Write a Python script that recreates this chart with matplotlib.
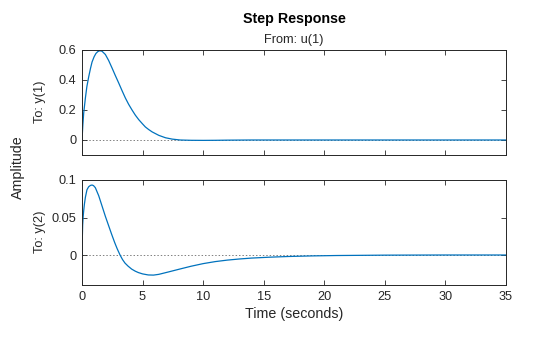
import matplotlib
matplotlib.use('Agg')
import matplotlib.pyplot as plt

plt.rcParams['font.family'] = ['Liberation Sans', 'DejaVu Sans']

# step response samples (time in seconds)
t1 = [0, 0.07, 0.14, 0.28, 0.4, 0.55, 0.7, 0.83, 1.0, 1.15, 1.3, 1.46, 1.65, 1.93, 2.2, 2.48,
      2.75, 3.03, 3.3, 3.58, 3.85, 4.13, 4.4, 4.68, 5.0, 5.23, 5.5, 5.79, 6.34, 6.89, 7.44, 8.1,
      9.0, 10.0, 11.0, 12.0, 14.0, 17.0, 20.0, 25.0, 30.0, 35.0]
y1 = [0, 0.1, 0.18, 0.28, 0.355, 0.42, 0.477, 0.52, 0.555, 0.577, 0.589, 0.595, 0.592, 0.57, 0.53, 0.48,
      0.43, 0.38, 0.33, 0.28, 0.238, 0.20, 0.166, 0.136, 0.107, 0.087, 0.07, 0.054, 0.031, 0.015, 0.006, 0.0,
      -0.002, -0.0025, -0.002, -0.001, 0.0, 0.0, 0.0, 0.0, 0.0, 0.0]

t2 = [0, 0.025, 0.055, 0.1, 0.14, 0.2, 0.28, 0.41, 0.55, 0.7, 0.83, 0.95, 1.1, 1.38, 1.65, 1.93,
      2.2, 2.45, 2.7, 2.9, 3.14, 3.35, 3.55, 3.8, 4.1, 4.4, 4.65, 5.0, 5.47, 5.9, 6.34, 7.16,
      8.13, 9.0, 10.0, 11.0, 12.0, 13.0, 14.0, 15.5, 17.0, 19.0, 21.0, 25.0, 30.0, 35.0]
y2 = [0, 0.022, 0.040, 0.052, 0.059, 0.068, 0.077, 0.087, 0.091, 0.0928, 0.0933, 0.0925, 0.0898, 0.079, 0.0655, 0.0515,
      0.039, 0.0275, 0.0165, 0.0085, 0.0, -0.0062, -0.0108, -0.0148, -0.0188, -0.0216, -0.0234, -0.0252, -0.0266, -0.0268, -0.0258, -0.0225,
      -0.0185, -0.015, -0.0115, -0.0088, -0.0068, -0.0053, -0.0041, -0.0029, -0.002, -0.0012, -0.0007, -0.0002, 0.0, 0.0]

xticks = [0, 5, 10, 15, 20, 25, 30, 35]
line_color = '#0072BD'
axis_color = '#262626'

fig = plt.figure(figsize=(5.6, 3.37), dpi=100)
ax1 = fig.add_axes([82 / 560, 1 - 155 / 337, 424 / 560, 105 / 337])
ax2 = fig.add_axes([82 / 560, 1 - 285 / 337, 424 / 560, 105 / 337])

for ax, t, y in [(ax1, t1, y1), (ax2, t2, y2)]:
    ax.axhline(0, color='#808080', linestyle=(0, (1.5, 2)), linewidth=0.7, zorder=1)
    ax.plot(t, y, color=line_color, linewidth=0.9, zorder=2)
    ax.set_xlim(0, 35)
    ax.set_xticks(xticks)
    ax.tick_params(direction='in', length=3.5, width=0.6, top=True, right=True,
                   labelsize=9.2, colors=axis_color, pad=4)
    for sp in ax.spines.values():
        sp.set_color(axis_color)
        sp.set_linewidth(0.7)

ax1.set_ylim(-0.1, 0.6)
ax1.set_yticks([0, 0.2, 0.4, 0.6])
ax1.set_yticklabels(['0', '0.2', '0.4', '0.6'])
ax1.tick_params(labelbottom=False)

ax2.set_ylim(-0.04, 0.1)
ax2.set_yticks([0, 0.05, 0.1])
ax2.set_yticklabels(['0', '0.05', '0.1'])
ax2.set_xticklabels([str(v) for v in xticks])
ax2.set_xlabel('Time (seconds)', fontsize=10.3, color=axis_color, labelpad=3)

fig.text(294 / 560, 1 - 19 / 337, 'Step Response', ha='center', va='center',
         fontsize=10.3, fontweight='bold', color='black')
fig.text(294 / 560, 1 - 40 / 337, 'From: u(1)', ha='center', va='center',
         fontsize=9.2, color=axis_color)
fig.text(40 / 560, 1 - 102 / 337, 'To: y(1)', ha='center', va='center',
         rotation=90, fontsize=9.2, color=axis_color)
fig.text(40 / 560, 1 - 232 / 337, 'To: y(2)', ha='center', va='center',
         rotation=90, fontsize=9.2, color=axis_color)
fig.text(18 / 560, 1 - 167 / 337, 'Amplitude', ha='center', va='center',
         rotation=90, fontsize=10.3, color=axis_color)

fig.savefig('out.png', dpi=100, facecolor='white')
